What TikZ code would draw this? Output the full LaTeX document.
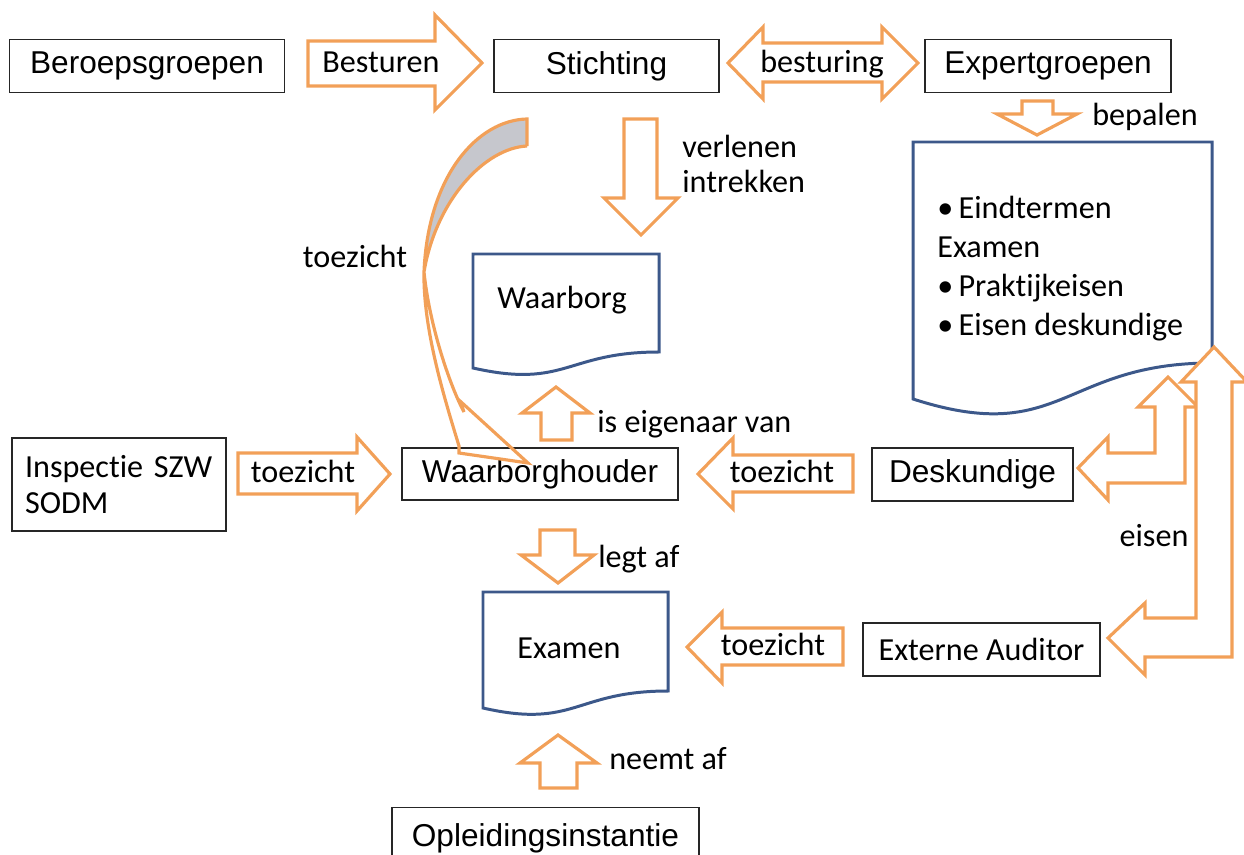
\documentclass[tikz,border=0pt]{standalone}
\usepackage{fontspec}
\setmainfont{Carlito}[Ligatures={TeX,NoCommon}]
\newfontfamily\arialfont{Liberation Sans}
\usepackage{xcolor}

\definecolor{arroworange}{RGB}{242,160,88}
\definecolor{docblue}{RGB}{60,88,138}
\definecolor{ribbongray}{RGB}{198,199,205}

\begin{document}
\begin{tikzpicture}[
    x=0.02cm, y=-0.02cm,
    every node/.style={font=\fontsize{18.3}{22}\selectfont, inner sep=0pt},
    box/.style={draw=black!85, line width=0.8pt, minimum height=1.06cm},
    abox/.style={box, font=\arialfont\fontsize{18}{22}\selectfont},
    doc/.style={draw=docblue, line width=1.7pt, fill=white},
    blk/.style={draw=arroworange, line width=1.8pt, fill=white, line join=miter},
    ribbon/.style={draw=arroworange, line width=1.8pt},
  ]
  \useasboundingbox (0,0) rectangle (1244,855);

  % boxes
  \node[abox, minimum width=5.5cm]  (beroeps)  at (147,66)    {Beroepsgroepen};
  \node[abox, minimum width=4.5cm]  (stichting) at (606.5,66) {Stichting};
  \node[abox, minimum width=4.92cm] (expert)   at (1048,66)   {Expertgroepen};
  \node[box, minimum height=1.86cm, text width=3.76cm, inner xsep=0.26cm,
        align=left, font=\fontsize{18.3}{20.5}\selectfont]
        (inspectie) at (119,484.5) {Inspectie SZW\\SODM};
  \node[abox, minimum width=5.52cm, minimum height=1.04cm] (houder) at (540,474) {Waarborghouder};
  \node[abox, minimum width=4.02cm] (deskundige) at (972.5,474.5) {Deskundige};
  \node[box, minimum width=4.74cm]  (auditor)  at (981.5,649.5) {Externe Auditor};
  \node[abox, minimum width=6.14cm, minimum height=1.3cm, anchor=north]
        (opleiding) at (545.5,807) {\raisebox{5.5pt}{Opleidingsinstantie}};

  % documents
  \draw[doc] (473,254) -- (659,254) -- (659,352)
    .. controls (566,352) and (566,389) .. (473,368) -- cycle;
  \node (waarborg) at (562,300) {Waarborg};
  \draw[doc] (913,142) -- (1212,142) -- (1212,363)
    .. controls (1062,363) and (1062,447) .. (913,399) -- cycle;
  \node[anchor=north west, align=left, font=\fontsize{18.3}{22.2}\selectfont]
    (eindtermen) at (937,196)
    {•\hspace{3pt}Eindtermen\\Examen\\•\hspace{3pt}Praktijkeisen\\•\hspace{3pt}Eisen deskundige};
  \draw[doc] (483,592) -- (668,592) -- (668,691)
    .. controls (575,691) and (575,729) .. (483,708) -- cycle;
  \node (examen) at (569,648) {Examen};

  % block arrows
  \draw[blk] (308,41) -- (435,41) -- (435,15) -- (482,63) -- (435,110)
    -- (435,86) -- (308,86) -- cycle;
  \node (besturen) at (381,62) {Besturen};
  \draw[blk] (728,63) -- (763,27) -- (763,43) -- (882,43) -- (882,27)
    -- (918,63) -- (882,99) -- (882,82) -- (763,82) -- (763,99) -- cycle;
  \node (besturing) at (822,64) {besturing};
  \draw[blk] (1022,101) -- (1053,101) -- (1053,114) -- (1077,114)
    -- (1037,135) -- (997,114) -- (1022,114) -- cycle;
  \node (bepalen) at (1145,117) {bepalen};
  \draw[blk] (624,119) -- (657,119) -- (657,198) -- (678,198)
    -- (641,235) -- (604,198) -- (624,198) -- cycle;
  \node[anchor=north west, align=left, font=\fontsize{18.3}{20}\selectfont]
    (verlenen) at (682,135) {verlenen\\intrekken};
  \draw[blk] (541,440) -- (541,413) -- (522,413) -- (556,387) -- (590,413)
    -- (572,413) -- (572,440) -- cycle;
  \node[anchor=west] (eigenaar) at (597,424) {is eigenaar van};
  \draw[blk] (238,453) -- (357,453) -- (357,437) -- (390,474) -- (357,511)
    -- (357,494) -- (238,494) -- cycle;
  \node (toezichtA) at (303,471) {toezicht};
  \draw[blk] (853,455) -- (733,455) -- (733,438) -- (698,474) -- (733,509)
    -- (733,492) -- (853,492) -- cycle;
  \node (toezichtB) at (782,471) {toezicht};
  \draw[blk] (540,530) -- (575,530) -- (575,555) -- (594,555) -- (558,583)
    -- (521,555) -- (540,555) -- cycle;
  \node[anchor=west] (legtaf) at (598,559) {legt af};
  \draw[blk] (843,628) -- (722,628) -- (722,612) -- (687,647) -- (722,683)
    -- (722,665) -- (843,665) -- cycle;
  \node (toezichtC) at (773,644) {toezicht};
  \draw[blk] (540,788) -- (540,763) -- (520,763) -- (558,735) -- (597,763)
    -- (577,763) -- (577,788) -- cycle;
  \node[anchor=west] (neemtaf) at (609,759) {neemt af};

  % bent arrows on the right
  \draw[blk] (1078,468) -- (1108,437) -- (1108,453) -- (1155,453) -- (1155,407)
    -- (1138,407) -- (1168,377) -- (1198,407) -- (1185,407) -- (1185,483)
    -- (1108,483) -- (1108,500) -- cycle;
  \draw[blk] (1108,638) -- (1145,603) -- (1145,618) -- (1196,618) -- (1196,382)
    -- (1181,382) -- (1214,347) -- (1247,382) -- (1232,382) -- (1232,657)
    -- (1145,657) -- (1145,675) -- cycle;
  \node (eisen) at (1154,536) {eisen};

  % curved arrow
  \fill[ribbongray] (527,119) .. controls (478,120) and (428,175) .. (424,272)
    .. controls (436,200) and (485,148) .. (527,146) -- cycle;
  \draw[ribbon] (527,146) -- (527,119) .. controls (478,120) and (428,175) .. (424,272)
    .. controls (423,330) and (445,400) .. (459,446) -- (459,453) -- (528,463)
    -- (460,401) -- (464,412) .. controls (452,390) and (430,330) .. (424,272)
    .. controls (436,200) and (485,148) .. (527,146);
  \node (toezichtD) at (355,256) {toezicht};
\end{tikzpicture}
\end{document}
